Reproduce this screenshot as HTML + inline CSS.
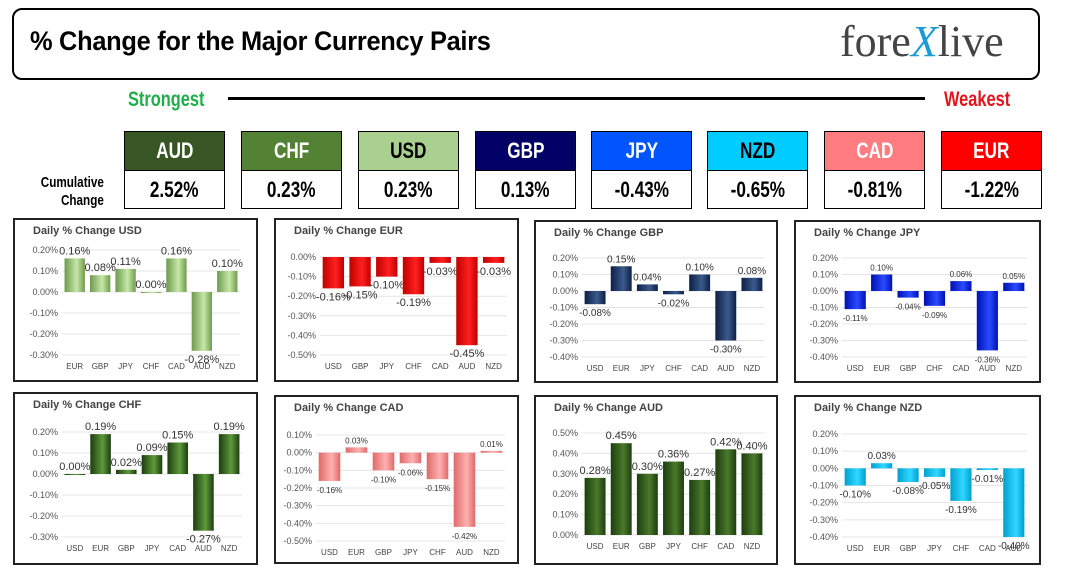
<!DOCTYPE html>
<html><head><meta charset="utf-8"><style>
body{margin:0;width:1066px;height:583px;background:#fff;position:relative;overflow:hidden;font-family:"Liberation Sans",sans-serif}
.abs{position:absolute}
.hdr{left:12px;top:8px;width:1024px;height:68px;border:2.5px solid #000;border-radius:10px}
.title{left:30px;top:26px;font-weight:bold;font-size:27px;transform:scaleX(0.94);transform-origin:left;letter-spacing:-0.3px}
.logo{left:840px;top:16px;font-family:"Liberation Serif",serif;font-size:44px;color:#444}
.cond{font-weight:bold;transform:scaleX(0.78);display:inline-block}
.box{width:99px;height:76px;border:1px solid #000}
.box .h{height:38px;border-bottom:1px solid #000;display:flex;align-items:center;justify-content:center;font-size:22px}
.box .v{height:37px;display:flex;align-items:center;justify-content:center;font-size:22px;color:#000}
.panel{border:2px solid #222;background:#fff}
svg text{font-family:"Liberation Sans",sans-serif}
</style></head><body>
<div class="abs hdr"></div>
<div class="abs title">% Change for the Major Currency Pairs</div>
<div class="abs logo">fore<span style="color:#1a9ad6;font-style:italic">X</span>live</div>
<div class="abs" style="left:128px;top:88px;color:#1fae4a;font-size:21px"><span class="cond" style="transform-origin:left">Strongest</span></div>
<div class="abs" style="left:228px;top:97px;width:697px;height:3px;background:#000"></div>
<div class="abs" style="left:944px;top:88px;color:#e3141c;font-size:21px"><span class="cond" style="transform-origin:left">Weakest</span></div>
<div class="abs" style="left:22px;top:174px;font-size:15px;text-align:right;width:82px;line-height:18px"><span class="cond" style="transform-origin:right">Cumulative<br>Change</span></div>
<div id="boxes"></div>
<div id="charts"></div>
<script>
// cumulative table data
const boxCurrencies=['AUD','CHF','USD','GBP','JPY','NZD','CAD','EUR'];
const boxValues=['2.52%','0.23%','0.23%','0.13%','-0.43%','-0.65%','-0.81%','-1.22%'];
const boxColors=['#375623','#548235','#a9d08e','#000066','#0055ff','#00ccff','#ff7c80','#ff0000'];
const boxText=['#fff','#fff','#000','#fff','#fff','#000','#fff','#fff'];
const boxX=[124,241,358,475,591,707,824,941];
const bx=document.getElementById('boxes');
boxCurrencies.forEach((c,i)=>{
  const d=document.createElement('div');
  d.className='abs box';d.style.left=boxX[i]+'px';d.style.top='131px';
  
  
  d.innerHTML='<div class="h" style="background:'+boxColors[i]+';color:'+boxText[i]+'"><span class="cond">'+c+'</span></div><div class="v"><span class="cond">'+boxValues[i]+'</span></div>';
  bx.appendChild(d);
});

// chart data
const usdCats=['EUR','GBP','JPY','CHF','CAD','AUD','NZD'];
const usdVals=[0.16,0.08,0.11,0.00,0.16,-0.28,0.10];
const usdTicks=[0.2,0.1,0,-0.1,-0.2,-0.3];
const eurCats=['USD','GBP','JPY','CHF','CAD','AUD','NZD'];
const eurVals=[-0.16,-0.15,-0.10,-0.19,-0.03,-0.45,-0.03];
const eurTicks=[0,-0.1,-0.2,-0.3,-0.4,-0.5];
const gbpCats=['USD','EUR','JPY','CHF','CAD','AUD','NZD'];
const gbpVals=[-0.08,0.15,0.04,-0.02,0.10,-0.30,0.08];
const gbpTicks=[0.2,0.1,0,-0.1,-0.2,-0.3,-0.4];
const jpyCats=['USD','EUR','GBP','CHF','CAD','AUD','NZD'];
const jpyVals=[-0.11,0.10,-0.04,-0.09,0.06,-0.36,0.05];
const jpyTicks=[0.2,0.1,0,-0.1,-0.2,-0.3,-0.4];
const chfCats=['USD','EUR','GBP','JPY','CAD','AUD','NZD'];
const chfVals=[0.00,0.19,0.02,0.09,0.15,-0.27,0.19];
const chfTicks=[0.2,0.1,0,-0.1,-0.2,-0.3];
const cadCats=['USD','EUR','GBP','JPY','CHF','AUD','NZD'];
const cadVals=[-0.16,0.03,-0.10,-0.06,-0.15,-0.42,0.01];
const cadTicks=[0.1,0,-0.1,-0.2,-0.3,-0.4,-0.5];
const audCats=['USD','EUR','GBP','JPY','CHF','CAD','NZD'];
const audVals=[0.28,0.45,0.30,0.36,0.27,0.42,0.40];
const audTicks=[0.5,0.4,0.3,0.2,0.1,0];
const nzdCats=['USD','EUR','GBP','JPY','CHF','CAD','AUD'];
const nzdVals=[-0.10,0.03,-0.08,-0.05,-0.19,-0.01,-0.40];
const nzdTicks=[0.2,0.1,0,-0.1,-0.2,-0.3,-0.4];

const NS='http://www.w3.org/2000/svg';
function mk(tag,attrs){const e=document.createElementNS(NS,tag);for(const k in attrs)e.setAttribute(k,attrs[k]);return e;}
const charts=[
 {name:'USD',cats:usdCats,vals:usdVals,ticks:usdTicks,px:13,py:218,pw:245,ph:164,x0:62,x1:240,yTop:250,yBot:355,c1:'#6f9a4e',c2:'#c6e8a8',lf:11},
 {name:'EUR',cats:eurCats,vals:eurVals,ticks:eurTicks,px:274,py:218,pw:245,ph:164,x0:320,x1:507,yTop:257,yBot:355,c1:'#c00000',c2:'#ff2020',lf:11},
 {name:'GBP',cats:gbpCats,vals:gbpVals,ticks:gbpTicks,px:534,py:220,pw:244,ph:163,x0:582,x1:765,yTop:258,yBot:357,c1:'#0d1f45',c2:'#3a5a8c',lf:10},
 {name:'JPY',cats:jpyCats,vals:jpyVals,ticks:jpyTicks,px:794,py:220,pw:247,ph:163,x0:842,x1:1027,yTop:258,yBot:357,c1:'#0010b0',c2:'#2a4bff',lf:8},
 {name:'CHF',cats:chfCats,vals:chfVals,ticks:chfTicks,px:13,py:392,pw:245,ph:173,x0:62,x1:242,yTop:432,yBot:537,c1:'#1d3d10',c2:'#5d9a3a',lf:11},
 {name:'CAD',cats:cadCats,vals:cadVals,ticks:cadTicks,px:274,py:395,pw:245,ph:169,x0:316,x1:505,yTop:435,yBot:541,c1:'#e06a6a',c2:'#ffb0b0',lf:8},
 {name:'AUD',cats:audCats,vals:audVals,ticks:audTicks,px:534,py:395,pw:244,ph:170,x0:582,x1:765,yTop:433,yBot:535,c1:'#1d3d10',c2:'#4a7a2a',lf:11},
 {name:'NZD',cats:nzdCats,vals:nzdVals,ticks:nzdTicks,px:794,py:395,pw:247,ph:170,x0:842,x1:1027,yTop:434,yBot:537,c1:'#00a0d0',c2:'#30d8ff',lf:10}
];
const host=document.getElementById('charts');
charts.forEach((c,ci)=>{
  const pn=document.createElement('div');
  pn.className='abs panel';
  pn.style.cssText='left:'+c.px+'px;top:'+c.py+'px;width:'+(c.pw-4)+'px;height:'+(c.ph-4)+'px';
  
  
  host.appendChild(pn);
  const svg=mk('svg',{width:c.pw,height:c.ph,style:'position:absolute;left:'+c.px+'px;top:'+c.py+'px;overflow:visible'});
  
  
  const defs=mk('defs',{});
  const g=mk('linearGradient',{id:'g'+ci,x1:0,x2:1,y1:0,y2:0});
  g.appendChild(mk('stop',{offset:'0','stop-color':c.c1}));
  g.appendChild(mk('stop',{offset:'0.6','stop-color':c.c2}));
  g.appendChild(mk('stop',{offset:'1','stop-color':c.c1}));
  defs.appendChild(g);svg.appendChild(defs);
  const ox=c.px, oy=c.py;
  const tMax=c.ticks[0], tMin=c.ticks[c.ticks.length-1];
  const y=v=>c.yTop-oy+(tMax-v)/(tMax-tMin)*(c.yBot-c.yTop);
  const band=(c.x1-c.x0)/c.cats.length;
  const x=i=>c.x0-ox+band*i;
  const t=mk('text',{x:20,y:16,'font-size':11,'font-weight':'bold',fill:'#444'});
  t.textContent='Daily % Change '+c.name;
  
  
  svg.appendChild(t);
  c.ticks.forEach(tv=>{
    const gl=mk('line',{x1:c.x0-ox,x2:c.x1-ox,y1:y(tv),y2:y(tv),stroke:'#e4e4e4','stroke-width':1});
    
    
    svg.appendChild(gl);
    const tl=mk('text',{x:c.x0-ox-4,y:y(tv)+3,'font-size':9,'text-anchor':'end',fill:'#555'});
    tl.textContent=tv.toFixed(2)+'%';
    
    
    svg.appendChild(tl);
  });
  const xlY=c.yBot-oy+14;
  c.cats.forEach((cat,i)=>{
    const v=c.vals[i];
    const bw=band*0.8, bxp=x(i)+band*0.1;
    const y0=y(0), yv=y(v);
    const r=mk('rect',{x:bxp,y:Math.min(y0,yv),width:bw,height:Math.max(Math.abs(yv-y0),1),fill:'url(#g'+ci+')'});
    
    
    svg.appendChild(r);
    const vl=mk('text',{x:bxp+bw/2,y:v>=0?yv-4:yv+12,'font-size':c.lf,'text-anchor':'middle',fill:'#333'});
    vl.textContent=v.toFixed(2)+'%';
    
    
    svg.appendChild(vl);
    const xl=mk('text',{x:x(i)+band/2,y:xlY,'font-size':8,'text-anchor':'middle',fill:'#444'});
    xl.textContent=cat;
    
    
    svg.appendChild(xl);
  });
  host.appendChild(svg);
});
</script>
</body></html>
